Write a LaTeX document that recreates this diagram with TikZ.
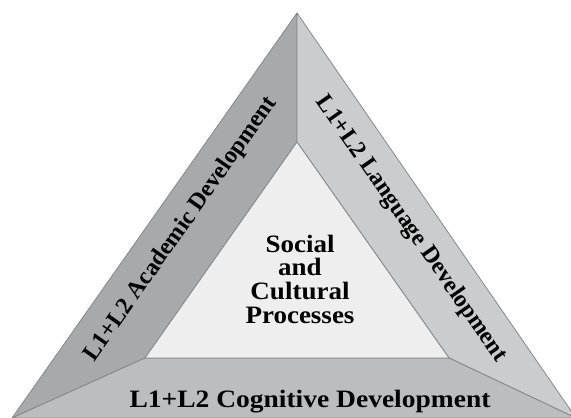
\documentclass[tikz,border=0pt]{standalone}
\usepackage{fontspec}
\setmainfont{Liberation Serif}
\usetikzlibrary{calc}

\definecolor{leftgray}{HTML}{A7A9AA}
\definecolor{rightgray}{HTML}{CBCCCD}
\definecolor{bottomgray}{HTML}{BBBDBE}
\definecolor{innergray}{HTML}{EEEEEE}
\definecolor{edgegray}{HTML}{85888A}

\begin{document}
\begin{tikzpicture}[x=1pt, y=1pt,
  panel/.style={draw=edgegray, line width=0.8pt, line join=round},
  sidelabel/.style={font=\fontsize{24}{24}\selectfont\bfseries, inner sep=0pt},
  bottomlabel/.style={font=\fontsize{25}{25}\selectfont\bfseries, inner sep=0pt, xscale=1.1},
  midlabel/.style={font=\fontsize{25}{23.7}\selectfont\bfseries, align=center, inner sep=0pt, xscale=1.08}]
  \useasboundingbox (0,0) rectangle (571,418);
  \clip (0,0) rectangle (571,418);

  \coordinate (OA) at (297,405); % outer apex
  \coordinate (OL) at (12,0);    % outer left
  \coordinate (OR) at (576,0);   % outer right
  \coordinate (IA) at (297,276); % inner apex
  \coordinate (IL) at (145,60);  % inner left
  \coordinate (IR) at (449,60);  % inner right

  \draw[panel, fill=leftgray] (OL) -- (OA) -- (IA) -- (IL) -- cycle; % left side
  \draw[panel, fill=rightgray] (OA) -- (OR) -- (IR) -- (IA) -- cycle; % right side
  \draw[panel, fill=bottomgray] (OL) -- (IL) -- (IR) -- (OR) -- cycle; % bottom
  \draw[panel, fill=innergray] (IA) -- (IL) -- (IR) -- cycle; % middle

  \path ($(OL)!0.4!(IL)$) -- ($(OA)!0.4!(IA)$)
    node[sidelabel, midway, sloped] (academic) {L1+L2 Academic Development};
  \path ($(OA)!0.4!(IA)$) -- ($(OR)!0.4!(IR)$)
    node[sidelabel, midway, sloped] (language) {L1+L2 Language Development};
  \node[bottomlabel, anchor=base] (cognitive) at (310,10) {L1+L2 Cognitive Development};
  \node[midlabel] (social) at (300,139) {Social\\and\\Cultural\\Processes};
\end{tikzpicture}
\end{document}
